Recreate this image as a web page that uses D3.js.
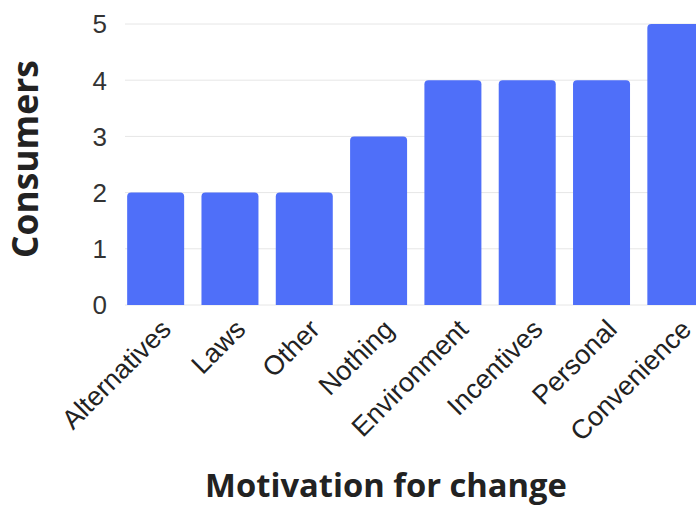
<!DOCTYPE html>
<html><head><meta charset="utf-8">
<script src="https://cdn.jsdelivr.net/npm/d3@7"></script>
<style>html,body{margin:0;padding:0;background:#fff;overflow:hidden}</style>
</head><body>
<svg id="c" width="696" height="506"></svg>
<script>
const categories = ["Alternatives","Laws","Other","Nothing","Environment","Incentives","Personal","Convenience"];
const consumers = [2,2,2,3,4,4,4,5];
const yTicks = [0,1,2,3,4,5];
const xTitle = "Motivation for change";
const yTitle = "Consumers";

const svg = d3.select("#c");
const x = d3.scaleBand().domain(categories).range([118.5, 713]).paddingInner(0.233).paddingOuter(0.1165);
const y = d3.scaleLinear().domain([0,5]).range([305, 24]);

// grid
svg.append("g").selectAll("line").data(yTicks).join("line")
  .attr("x1",125).attr("x2",696)
  .attr("y1",d=>y(d)).attr("y2",d=>y(d))
  .attr("stroke","#e6e6e6").attr("stroke-width",1);

// y tick labels
svg.append("g").selectAll("text").data(yTicks).join("text")
  .attr("x",107).attr("y",d=>y(d)).attr("dy","0.36em")
  .attr("text-anchor","end")
  .attr("font-family","'Liberation Sans', Arial, sans-serif")
  .attr("font-size",26).attr("fill","#333")
  .text(d=>d);

// bars
const r = 4;
svg.append("g").selectAll("path").data(categories).join("path")
  .attr("fill","#4f6ff9")
  .attr("d",(c,i)=>{
    const x0 = x(c), w = x.bandwidth(), y0 = y(consumers[i]), yb = y(0);
    return `M${x0},${yb}V${y0+r}Q${x0},${y0} ${x0+r},${y0}H${x0+w-r}Q${x0+w},${y0} ${x0+w},${y0+r}V${yb}Z`;
  });

// x labels
svg.append("g").selectAll("text").data(categories).join("text")
  .attr("transform",c=>`translate(${x(c)+x.bandwidth()/2+17},${331}) rotate(-45)`)
  .attr("text-anchor","end")
  .attr("font-family","'Liberation Sans', Arial, sans-serif")
  .attr("font-size",27).attr("fill","#222")
  .text(c=>c);

// titles
const tx = svg.append("text").attr("x",386).attr("y",497).attr("text-anchor","middle")
  .attr("font-family","'Open Sans', Lato, sans-serif").attr("font-weight","bold")
  .attr("font-size",32).attr("fill","#222").text(xTitle);
let w = tx.node().getComputedTextLength(); tx.attr("font-size",32*362/w);

const ty = svg.append("text").attr("transform","translate(38,159) rotate(-90)").attr("text-anchor","middle")
  .attr("font-family","'Open Sans', Lato, sans-serif").attr("font-weight","bold")
  .attr("font-size",32).attr("fill","#222").text(yTitle);
w = ty.node().getComputedTextLength(); ty.attr("font-size",32*198/w);
</script>
</body></html>
